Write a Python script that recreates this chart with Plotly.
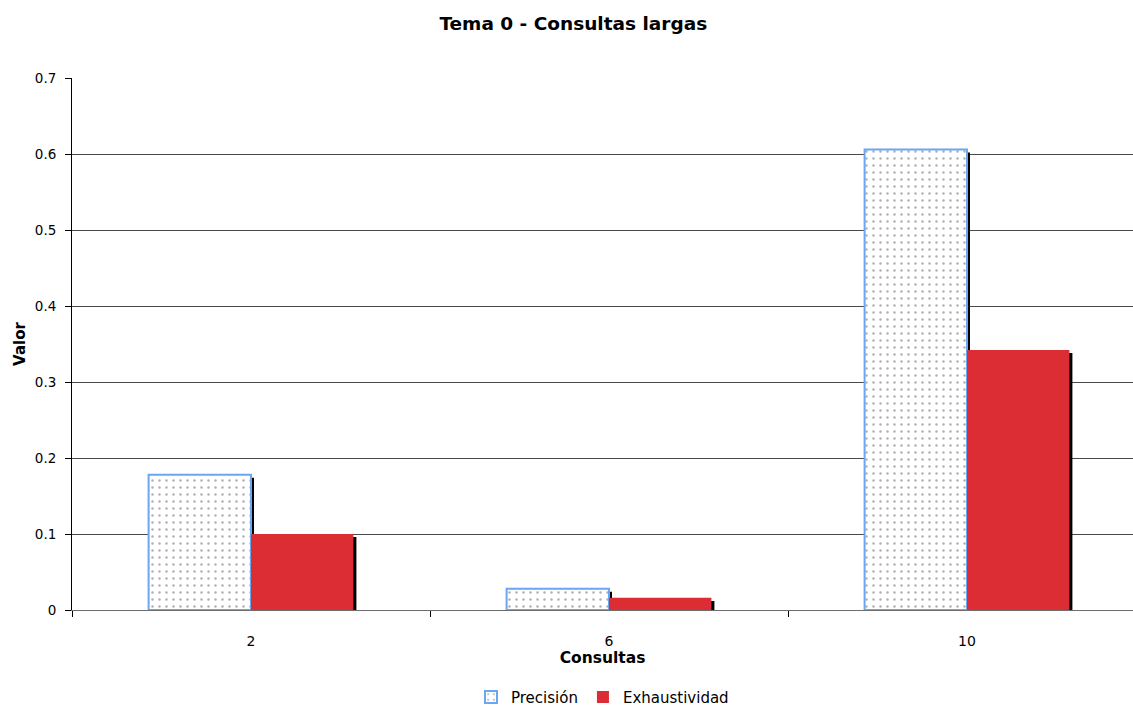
import plotly.graph_objects as go

# Data
consultas = ["2", "6", "10"]
precision = [0.178, 0.028, 0.606]
exhaustividad = [0.100, 0.016, 0.342]
y_ticks = [0, 0.1, 0.2, 0.3, 0.4, 0.5, 0.6, 0.7]
y_tick_labels = ["0", "0.1", "0.2", "0.3", "0.4", "0.5", "0.6", "0.7"]

BAR_W = 0.286          # width of one series bar (category units)
SHADOW_DX = 0.0084     # shadow horizontal shift (category units)
SHADOW_DY = 0.004      # shadow vertical drop (value units)

FONT = "DejaVu Sans, Verdana, sans-serif"

fig = go.Figure()

# Drop shadows behind each bar
for vals, off in ((precision, -BAR_W), (exhaustividad, 0.0)):
    fig.add_trace(go.Bar(
        x=consultas, y=vals, base=-SHADOW_DY,
        width=BAR_W, offset=off + SHADOW_DX,
        marker=dict(color="black", line=dict(width=0)),
        showlegend=False, hoverinfo="skip",
    ))

fig.add_trace(go.Bar(
    name="Precisión", x=consultas, y=precision,
    width=BAR_W, offset=-BAR_W,
    marker=dict(
        color="white",
        line=dict(color="#6aa6f2", width=2),
        pattern=dict(shape=".", fgcolor="#b0b0b0", bgcolor="white",
                     size=7, solidity=0.1, fillmode="replace"),
    ),
))
fig.add_trace(go.Bar(
    name="Exhaustividad", x=consultas, y=exhaustividad,
    width=BAR_W, offset=0.0,
    marker=dict(color="#dc2c34", line=dict(width=0)),
))

fig.update_layout(
    width=1133, height=706,
    barmode="overlay",
    plot_bgcolor="white", paper_bgcolor="white",
    margin=dict(l=72, r=0, t=78, b=96, autoexpand=False),
    font=dict(family=FONT, size=13, color="black"),
    title=dict(text="<b>Tema 0 - Consultas largas</b>", x=0.506, xanchor="center",
               y=1 - 24 / 706, yanchor="middle", font=dict(size=18.5)),
    legend=dict(orientation="h", x=0.5, xanchor="center", y=-0.164, yanchor="middle",
                font=dict(size=15), traceorder="normal", itemwidth=30,
                tracegroupgap=0),
    showlegend=True,
)

fig.update_xaxes(
    type="category", range=[-0.5, -0.5 + 1061 / 358],
    tickson="boundaries", ticks="outside", ticklen=6, tickcolor="black",
    ticklabelstandoff=18, tickfont=dict(size=14),
    showline=True, linecolor="#6e6e6e", linewidth=1,
    showgrid=False, automargin=False,
    title=dict(text="<b>Consultas</b>", font=dict(size=15.5), standoff=4),
)
fig.update_yaxes(
    range=[0, 0.7], tickmode="array", tickvals=y_ticks, ticktext=y_tick_labels,
    ticks="outside", ticklen=6, tickcolor="black",
    ticklabelstandoff=6, tickfont=dict(size=13.5),
    showline=True, linecolor="black", linewidth=1,
    showgrid=True, gridcolor="#4a4a4a", gridwidth=1,
    zeroline=False, automargin=False,
    title=dict(text="<b>Valor</b>", font=dict(size=15), standoff=5),
)

fig.write_html("out.html")
